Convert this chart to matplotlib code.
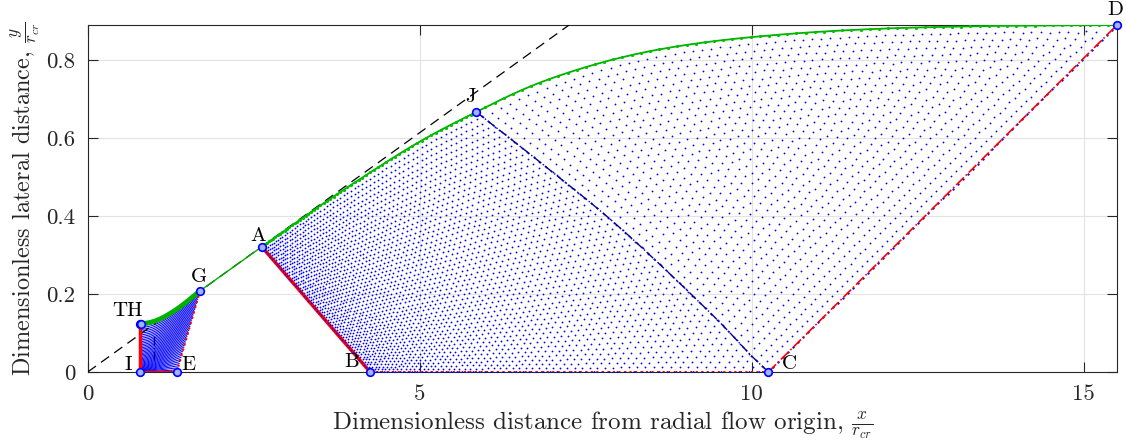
#!/usr/bin/env python
# coding: utf-8

import numpy as np
import matplotlib
matplotlib.use("Agg")
from matplotlib import pyplot as plt

# labelled points (x/rcr, y/rcr)
pt_I = (0.78, 0.0)
pt_T = (0.78, 0.123)
pt_H = (0.80, 0.123)
pt_E = (1.34, 0.0)
pt_G = (1.69, 0.208)
pt_A = (2.62, 0.321)
pt_B = (4.25, 0.0)
pt_J = (5.85, 0.667)
pt_C = (10.25, 0.0)
pt_D = (15.5, 0.89)

# throat wall T -> G
tg_x = [0.78, 0.94, 1.09, 1.24, 1.39, 1.54, 1.69]
tg_y = [0.123, 0.127, 0.136, 0.150, 0.167, 0.187, 0.208]

# wall contour A -> J -> D
wall_x = [2.62, 3.40, 4.20, 5.00, 5.85, 6.70, 7.60, 8.50, 9.50, 10.7, 12.0, 13.4, 14.5, 15.5]
wall_y = [0.321, 0.415, 0.506, 0.591, 0.667, 0.735, 0.787, 0.824, 0.850, 0.869, 0.881, 0.887, 0.889, 0.890]

# characteristic J -> C
jc_x = [10.25, 9.98, 9.33, 8.02, 6.90, 5.85]
jc_y = [0.0, 0.044, 0.159, 0.369, 0.526, 0.667]

# characteristic inside the throat region
th_x = [0.99, 0.99]
th_y = [0.03, 0.095]

ray_slope = 0.1228

labels = ["TH", "I", "E", "G", "A", "B", "J", "C", "D"]
label_at = [pt_T, pt_I, pt_E, pt_G, pt_A, pt_B, pt_J, pt_C, pt_D]
label_off = [(-12, 13), (-11, 7), (12, 7), (-1, 14), (-4, 11), (-18, 10), (-6, 15), (21, 8), (-2, 15)]


def smooth(xs, ys, n=24):
    # Catmull-Rom through the given points
    p = np.column_stack([xs, ys]).astype(float)
    p = np.vstack([2 * p[0] - p[1], p, 2 * p[-1] - p[-2]])
    out = []
    t = np.linspace(0, 1, n, endpoint=False)[:, None]
    for k in range(1, len(p) - 2):
        p0, p1, p2, p3 = p[k - 1], p[k], p[k + 1], p[k + 2]
        out.append(0.5 * (2 * p1 + (-p0 + p2) * t + (2 * p0 - 5 * p1 + 4 * p2 - p3) * t ** 2
                          + (-p0 + 3 * p1 - 3 * p2 + p3) * t ** 3))
    out.append(p[-2][None, :])
    out = np.vstack(out)
    return out[:, 0], out[:, 1]


def along(xs, ys, s):
    # point on polyline at normalised arc length s
    xs, ys = np.asarray(xs, float), np.asarray(ys, float)
    d = np.r_[0, np.cumsum(np.hypot(np.diff(xs), np.diff(ys)))]
    d /= d[-1]
    return np.interp(s, d, xs), np.interp(s, d, ys)


def coons(left, right, bot, top, c00, c10, c01, c11, u, v):
    lx, ly = left(v)
    rx, ry = right(v)
    bx, by = bot(u)
    tx, ty = top(u)
    x = (1 - u) * lx + u * rx + (1 - v) * bx + v * tx \
        - ((1 - u) * (1 - v) * c00[0] + u * (1 - v) * c10[0] + (1 - u) * v * c01[0] + u * v * c11[0])
    y = (1 - u) * ly + u * ry + (1 - v) * by + v * ty \
        - ((1 - u) * (1 - v) * c00[1] + u * (1 - v) * c10[1] + (1 - u) * v * c01[1] + u * v * c11[1])
    return x, y


def seg(p, q):
    return lambda s: (p[0] + s * (q[0] - p[0]), p[1] + s * (q[1] - p[1]))


plt.rcParams["font.family"] = "serif"
plt.rcParams["font.serif"] = ["cmr10"]
plt.rcParams["mathtext.fontset"] = "cm"
plt.rcParams["axes.formatter.use_mathtext"] = True

fig = plt.figure(figsize=(11.26, 4.47), dpi=100)
ax = fig.add_axes([0.078, 0.168, 0.914, 0.776])

blue = "#0000ff"
green = "#00b000"

tgs_x, tgs_y = smooth(tg_x, tg_y)
ws_x, ws_y = smooth(wall_x, wall_y)
jcs_x, jcs_y = smooth(jc_x, jc_y)

# kernel region A-B-C-J
ia = ws_x <= pt_J[0] + 1e-9
aj_x, aj_y = ws_x[ia], ws_y[ia]
s = np.linspace(0, 1, 62)
uu = 0.5 * s + 0.5 * s ** 2
vv = np.linspace(0, 1, 52)
U, V = np.meshgrid(uu, vv)
kx, ky = coons(seg(pt_B, pt_A),
               lambda t: along(jcs_x, jcs_y, t),
               seg(pt_B, pt_C),
               lambda t: along(aj_x, aj_y, t),
               pt_B, pt_C, pt_A, pt_J, U, V)
ax.plot(kx.ravel(), ky.ravel(), ".", color=blue, ms=2.6, mew=0, zorder=2)

# turning region J-C-D
jd = ws_x >= pt_J[0] - 1e-9
jd_x, jd_y = ws_x[jd], ws_y[jd]
n_line, n_pts = 70, 46
tx_all, ty_all, wx_all, wy_all = [], [], [], []
for i in range(n_line + 1):
    u = i / n_line
    k = max(int(round(n_pts * (1 - u))), 0) + 1
    v = np.linspace(0, 1, k) if k > 1 else np.array([1.0])
    uv = np.full_like(v, u)
    x, y = coons(lambda t: along(jcs_x, jcs_y, t),
                 lambda t: (np.full_like(t, pt_D[0]), np.full_like(t, pt_D[1])),
                 seg(pt_C, pt_D),
                 lambda t: along(jd_x, jd_y, t),
                 pt_C, pt_D, pt_J, pt_D, uv, v)
    tx_all.append(x)
    ty_all.append(y)
    wx_all.append(x[-1])
    wy_all.append(y[-1])
ax.plot(np.concatenate(tx_all), np.concatenate(ty_all), ".", color=blue, ms=2.6, mew=0, zorder=2)

# throat fan T-I-E-G
fv = np.linspace(0, 1, 40)
fu = np.linspace(0, 1, 60)
FU, FV = np.meshgrid(fu, fv)
fx, fy = coons(lambda t: (pt_I[0] + 0 * t, pt_I[1] + t ** 1.6 * (pt_T[1] - pt_I[1])),
               seg(pt_E, pt_G),
               seg(pt_I, pt_E),
               lambda t: along(tgs_x, tgs_y, t),
               pt_I, pt_E, pt_T, pt_G, FU, FV)
for row_x, row_y in zip(fx, fy):
    ax.plot(row_x, row_y, "-", color=blue, lw=0.7, zorder=2)
ax.plot(th_x, th_y, "-.", color="#00008b", lw=1.0, zorder=3)

# radial flow ray
xr = np.array([0, 0.89 / ray_slope])
ax.plot(xr, ray_slope * xr, "--", color="k", lw=0.9, dashes=(8, 5), zorder=3)

# boundaries
ax.plot([pt_I[0], pt_T[0]], [pt_I[1], pt_T[1]], "-", color="r", lw=2.5, zorder=4)
ax.plot([pt_I[0], pt_E[0]], [pt_I[1], pt_E[1]], "-", color="r", lw=2.5, zorder=4)
ax.plot([pt_E[0], pt_G[0]], [pt_E[1], pt_G[1]], ":", color="r", lw=1.5, zorder=4)
ax.plot([pt_A[0], pt_B[0]], [pt_A[1], pt_B[1]], "-", color="r", lw=2.5, zorder=4)
ax.plot(kx[:, 0], ky[:, 0], ".", color=blue, ms=2.5, mew=0, zorder=5)
ax.plot(kx[0, :], ky[0, :], ".", color=blue, ms=3.5, mew=0, zorder=4)
ax.plot([pt_B[0], pt_C[0]], [pt_B[1], pt_C[1]], ":", color="r", lw=1.5, zorder=5)
ax.plot([x[0] for x in tx_all], [y[0] for y in ty_all], ".", color=blue, ms=3, mew=0, zorder=4)
ax.plot([pt_C[0], pt_D[0]], [pt_C[1], pt_D[1]], "-.", color="r", lw=1.2, zorder=5)
ax.plot(jcs_x, jcs_y, "-.", color="#00008b", lw=1.0, zorder=4)

# walls
ax.plot(tgs_x, tgs_y, "-", color=green, lw=3.5, zorder=6)
ax.plot([pt_G[0], pt_A[0]], [pt_G[1], pt_A[1]], "-", color=green, lw=1.0, zorder=6)
ax.plot(ws_x, ws_y, "-", color=green, lw=1.3, zorder=6)
ax.plot(kx[-1, :], ky[-1, :], ".", color="#00c000", ms=4.5, mew=0, zorder=6)
ax.plot(wx_all, wy_all, ".", color="#00c000", ms=4.5, mew=0, zorder=6)

# labelled points
for name, p, off in zip(labels, label_at, label_off):
    ax.plot(p[0], p[1], "o", ms=5.5, mfc="#9fb4ff", mec=blue, mew=1.2, zorder=8, clip_on=False)
    ax.annotate(name, p, xytext=off, textcoords="offset pixels",
                ha="center", va="center", fontsize=15, zorder=9, annotation_clip=False)
ax.plot(pt_H[0], pt_H[1], "o", ms=5.5, mfc="#9fb4ff", mec=blue, mew=1.2, zorder=8)

ax.set_xlim(0, 15.5)
ax.set_ylim(0, 0.89)
ax.set_xticks([0, 5, 10, 15])
ax.set_yticks([0, 0.2, 0.4, 0.6, 0.8])
ax.set_xticklabels(["0", "5", "10", "15"])
ax.set_yticklabels(["0", "0.2", "0.4", "0.6", "0.8"])
ax.grid(True, color="#e3e3e3", lw=0.8, zorder=0)
ax.set_axisbelow(True)
ax.tick_params(direction="in", length=7, width=0.8, top=True, right=True,
               labelsize=16.5, colors="#262626", pad=9)
for sp in ax.spines.values():
    sp.set_color("#262626")
    sp.set_linewidth(0.8)

ax.set_xlabel(r"Dimensionless distance from radial flow origin, $\frac{x}{r_{cr}}$",
              fontsize=18, color="#262626", labelpad=4)
ax.set_ylabel(r"Dimensionless lateral distance, $\frac{y}{r_{cr}}$",
              fontsize=17.5, color="#262626", labelpad=3)

fig.savefig("out.png", dpi=100)
